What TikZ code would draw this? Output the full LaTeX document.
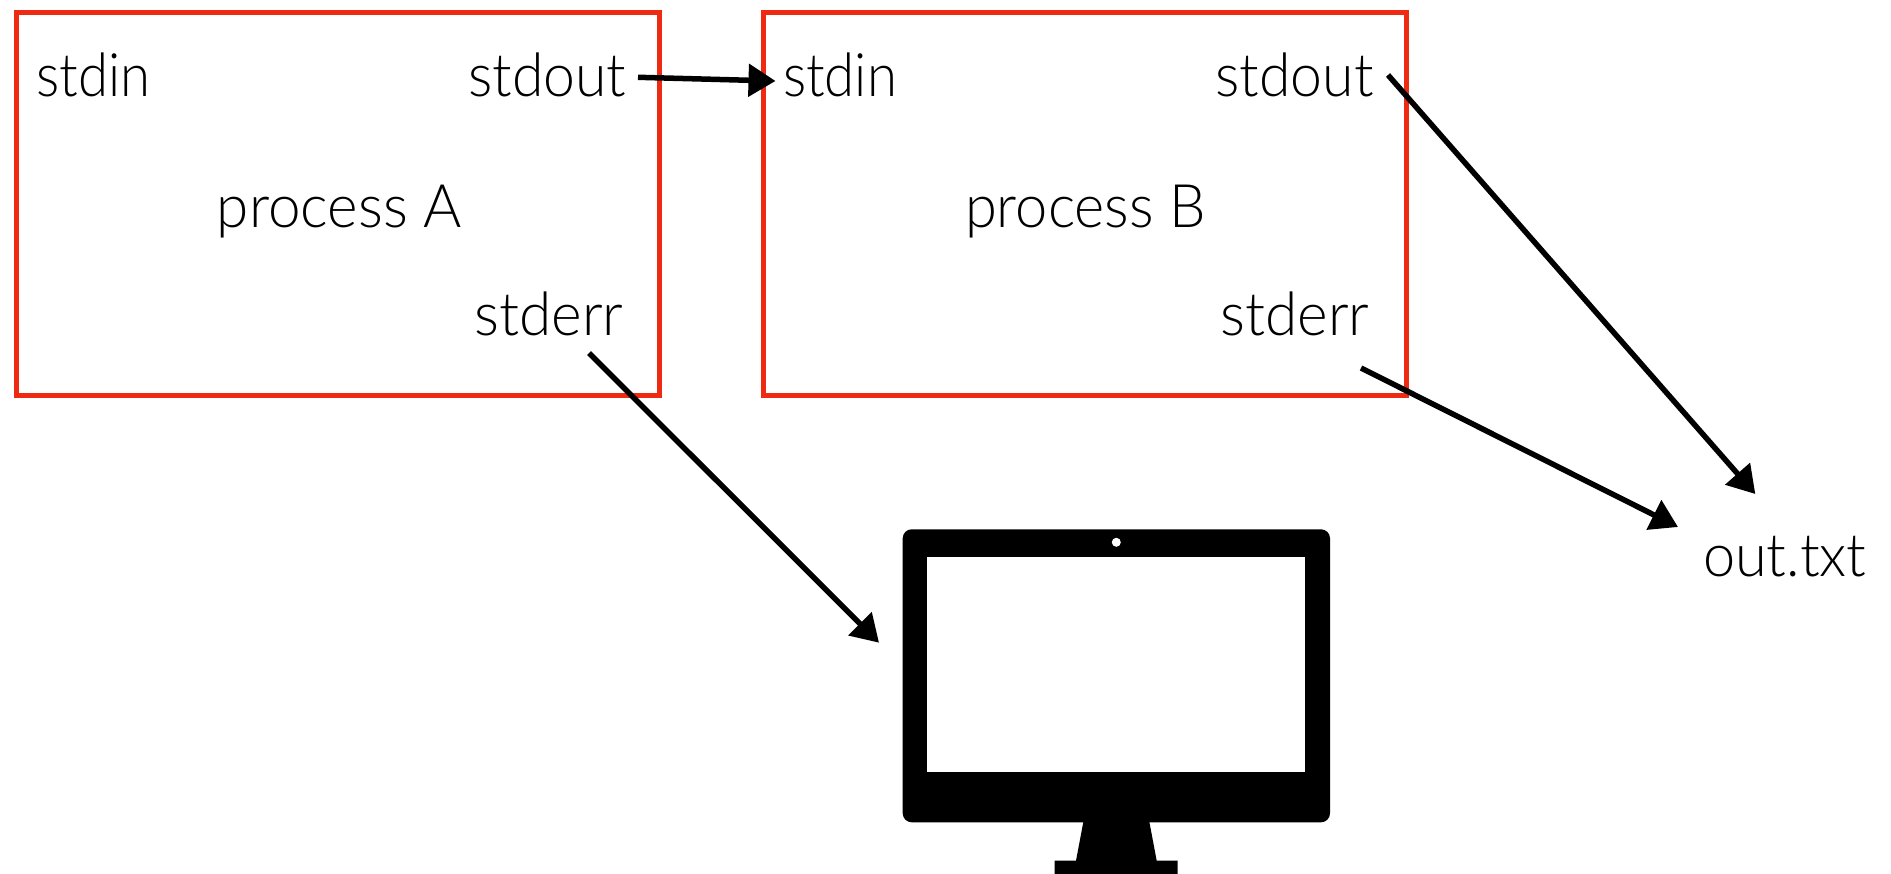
\documentclass[tikz,border=0pt]{standalone}
\usepackage{fontspec}
\usepackage{graphicx}
\usetikzlibrary{arrows.meta}
\setmainfont{Lato Light}
\definecolor{boxred}{HTML}{EE2A13}
\tikzset{
  px/.style={x=1pt,y=-1pt},
  procbox/.style={draw=boxred,line width=5pt,inner sep=0pt,outer sep=0pt,minimum width=643pt,minimum height=383pt,anchor=north west},
  lbl/.style={anchor=base west,inner sep=0pt,outer sep=0pt,font=\fontsize{60}{64}\selectfont},
  flow/.style={draw=black,line width=5.5pt,-{Triangle[length=27pt,width=32pt]}},
  ink/.style={fill=black,draw=none}
}
\newcommand{\fit}[2]{\resizebox{#1pt}{\height}{#2}}
\begin{document}
\begin{tikzpicture}[px]
\useasboundingbox (0,0) rectangle (1891,874);
\fill[white] (0,0) rectangle (1891,874);
\node[procbox] (boxA) at (16,13) {};
\node[procbox] (boxB) at (763.5,13) {};
\node[lbl] (inA) at (36.7,96.5) {\fit{114}{stdin}};
\node[lbl] (outA) at (468.4,96.5) {\fit{158}{stdout}};
\node[lbl] (procA) at (216.8,227.5) {\fit{245}{process A}};
\node[lbl] (errA) at (474.5,335.5) {\fit{149}{stderr}};
\node[lbl] (inB) at (783,96.5) {\fit{114}{stdin}};
\node[lbl] (outB) at (1215.6,96.5) {\fit{158}{stdout}};
\node[lbl] (procB) at (965,227.5) {\fit{241}{process B}};
\node[lbl] (errB) at (1220.5,335.5) {\fit{149}{stderr}};
\node[lbl] (file) at (1703,576) {\fit{163.5}{out.txt}};
% monitor
\path[ink,rounded corners=9pt] (902.7,529.3) rectangle (1330,822.3);
\fill[white] (927.3,557.3) rectangle (1305.3,772.3);
\fill[white] (1116.3,542.3) circle[radius=4.5];
\path[ink] (1083.7,820) -- (1149,820) -- (1156.7,860.7) -- (1177.7,860.7) -- (1177.7,874) -- (1054.7,874) -- (1054.7,860.7) -- (1076,860.7) -- cycle;
% connector ends
\coordinate (a1) at (638,77.3);
\coordinate (a2) at (775.5,81);
\coordinate (b1) at (589,353);
\coordinate (b2) at (879,642.7);
\coordinate (c1) at (1388,75);
\coordinate (c2) at (1755.3,494);
\coordinate (d1) at (1361,368);
\coordinate (d2) at (1678,527);
\draw[flow] (a1) -- (a2);
\draw[flow] (b1) -- (b2);
\draw[flow] (c1) -- (c2);
\draw[flow] (d1) -- (d2);
\end{tikzpicture}
\end{document}
